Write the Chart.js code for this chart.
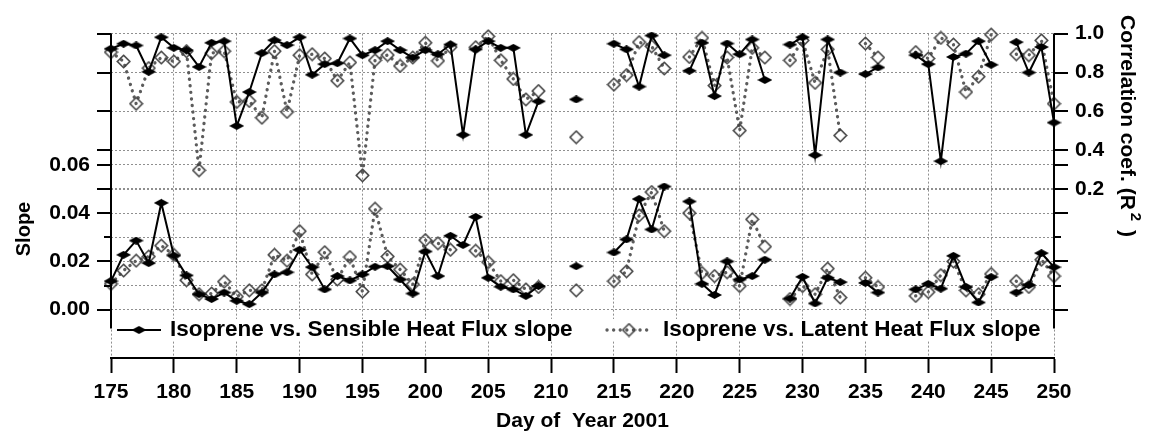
<!DOCTYPE html>
<html>
<head>
<meta charset="utf-8">
<title>Isoprene flux slopes 2001</title>
<script src="https://cdn.jsdelivr.net/npm/chart.js@4.4.1/dist/chart.umd.min.js"></script>
<style>
  html, body { margin: 0; padding: 0; background: #fff; }
  #wrap { width: 1149px; height: 436px; }
</style>
</head>
<body>
<div id="wrap"><canvas id="slopeChart" width="1149" height="436"></canvas></div>
<script>
// day of year, one entry per day so that missing days break the lines
const days = [
    175, 176, 177, 178, 179, 180, 181, 182, 183, 184,
    185, 186, 187, 188, 189, 190, 191, 192, 193, 194,
    195, 196, 197, 198, 199, 200, 201, 202, 203, 204,
    205, 206, 207, 208, 209, 210, 211, 212, 213, 214,
    215, 216, 217, 218, 219, 220, 221, 222, 223, 224,
    225, 226, 227, 228, 229, 230, 231, 232, 233, 234,
    235, 236, 237, 238, 239, 240, 241, 242, 243, 244,
    245, 246, 247, 248, 249, 250
];

// R^2 of isoprene vs. sensible heat flux
const sensibleR2 = [
    0.922, 0.948, 0.939, 0.804, 0.981, 0.927, 0.915, 0.829, 0.953, 0.961,
    0.526, 0.700, 0.900, 0.966, 0.941, 0.981, 0.789, 0.843, 0.848, 0.975,
    0.889, 0.915, 0.961, 0.915, 0.877, 0.915, 0.894, 0.944, 0.480, 0.919,
    0.961, 0.927, 0.927, 0.480, 0.652, null, null, 0.662, null, null,
    0.948, 0.919, 0.728, 0.990, 0.889, null, 0.809, 0.953, 0.679, 0.949,
    0.894, 0.970, 0.762, null, 0.944, 0.981, 0.376, 0.970, 0.800, null,
    0.792, 0.826, null, null, 0.889, 0.843, 0.345, 0.880, 0.897, 0.961,
    0.840, null, 0.956, 0.800, 0.931, 0.543
];

// R^2 of isoprene vs. latent heat flux
const latentR2 = [
    0.905, 0.857, 0.640, 0.823, 0.877, 0.857, 0.910, 0.298, 0.900, 0.910,
    0.649, 0.654, 0.568, 0.910, 0.598, 0.889, 0.894, 0.872, 0.758, 0.852,
    0.272, 0.863, 0.890, 0.834, 0.877, 0.953, 0.860, 0.931, null, 0.930,
    0.986, 0.863, 0.767, 0.662, 0.705, null, null, 0.468, null, null,
    0.738, 0.787, 0.956, 0.935, 0.821, null, 0.880, 0.978, 0.733, 0.877,
    0.502, 0.927, 0.877, null, 0.863, 0.965, 0.747, 0.919, 0.477, null,
    0.949, 0.877, null, null, 0.905, 0.872, 0.978, 0.944, 0.700, 0.779,
    0.995, null, 0.894, 0.889, 0.965, 0.640
];

// regression slopes
const sensibleSlope = [
    0.0118, 0.0227, 0.0286, 0.0193, 0.0442, 0.0224, 0.0142, 0.0064, 0.0044, 0.0071,
    0.0037, 0.0023, 0.0071, 0.0146, 0.0155, 0.0248, 0.0176, 0.0084, 0.0139, 0.0121,
    0.0146, 0.0178, 0.0180, 0.0125, 0.0067, 0.0241, 0.0139, 0.0306, 0.0268, 0.0384,
    0.0132, 0.0095, 0.0084, 0.0057, 0.0098, null, null, 0.0180, null, null,
    0.0237, 0.0291, 0.0458, 0.0332, 0.0510, null, 0.0448, 0.0107, 0.0061, 0.0200,
    0.0125, 0.0139, 0.0207, null, 0.0046, 0.0136, 0.0026, 0.0132, 0.0114, null,
    0.0111, 0.0071, null, null, 0.0084, 0.0107, 0.0087, 0.0223, 0.0094, 0.0030,
    0.0135, null, 0.0071, 0.0102, 0.0234, 0.0176
];

const latentSlope = [
    0.0107, 0.0162, 0.0203, 0.0220, 0.0265, 0.0227, 0.0122, 0.0064, 0.0067, 0.0116,
    0.0054, 0.0080, 0.0080, 0.0227, 0.0203, 0.0325, 0.0146, 0.0238, 0.0125, 0.0218,
    0.0075, 0.0418, 0.0220, 0.0166, 0.0105, 0.0288, 0.0275, 0.0248, null, 0.0244,
    0.0197, 0.0118, 0.0122, 0.0084, 0.0094, null, null, 0.0080, null, null,
    0.0118, 0.0159, 0.0390, 0.0487, 0.0325, null, 0.0400, 0.0152, 0.0139, 0.0155,
    0.0098, 0.0374, 0.0261, null, 0.0044, 0.0098, 0.0064, 0.0170, 0.0050, null,
    0.0132, 0.0094, null, null, 0.0057, 0.0073, 0.0143, 0.0200, 0.0080, 0.0064,
    0.0148, null, 0.0118, 0.0094, 0.0207, 0.0139
];

const dayTicks = [175, 180, 185, 190, 195, 200, 205, 210, 215, 220, 225, 230, 235, 240, 245, 250];
const slopeTicks = [0, 0.01, 0.02, 0.03, 0.04, 0.05, 0.06];
const r2Ticks = [0.2, 0.4, 0.6, 0.8, 1.0];

const FAMILY = '"Liberation Sans", Arial, Helvetica, sans-serif';
const GRID = '#8f8f8f';

// marker images: flat filled diamond and open diamond
function makeDiamond(w, h, fill, stroke, lw) {
    const c = document.createElement('canvas');
    c.width = w;
    c.height = h;
    const g = c.getContext('2d');
    const p = lw ? lw / 2 + 0.5 : 0;
    g.beginPath();
    g.moveTo(w / 2, p);
    g.lineTo(w - p, h / 2);
    g.lineTo(w / 2, h - p);
    g.lineTo(p, h / 2);
    g.closePath();
    if (fill) { g.fillStyle = fill; g.fill(); }
    if (stroke) { g.strokeStyle = stroke; g.lineWidth = lw; g.stroke(); }
    return c;
}
const solidMark = makeDiamond(15, 8, '#000', null, 0);
const openMark = makeDiamond(15, 15, null, '#404040', 1.6);

const pts = vals => days.map((d, i) => ({ x: d, y: vals[i] }));

const sensibleStyle = {
    borderColor: '#000',
    backgroundColor: '#000',
    borderWidth: 2,
    pointStyle: solidMark,
    pointRadius: 7,
    spanGaps: false,
    clip: false
};
const latentStyle = {
    borderColor: '#5c5c5c',
    backgroundColor: '#5c5c5c',
    borderWidth: 3.3,
    borderDash: [0.1, 6.5],
    borderCapStyle: 'round',
    pointStyle: openMark,
    pointRadius: 7,
    spanGaps: false,
    clip: false
};

// axis lines, mirrored ticks, rotated titles and the legend row
const decorations = {
    id: 'decorations',
    afterDraw(chart) {
        const { ctx, chartArea } = chart;
        const ys = chart.scales.y, yr = chart.scales.y2;
        const left = chartArea.left, right = chartArea.right;
        const top = yr.getPixelForValue(1.0);
        const bottom = ys.getPixelForValue(-0.0078);

        ctx.save();
        ctx.strokeStyle = '#000';
        ctx.lineWidth = 2;
        ctx.beginPath();
        ctx.moveTo(left, top); ctx.lineTo(left, bottom);
        ctx.moveTo(right, top); ctx.lineTo(right, bottom);
        slopeTicks.forEach(v => {
            const py = Math.round(ys.getPixelForValue(v));
            const len = Math.round(v * 100) % 2 === 0 ? 14 : 7;
            ctx.moveTo(left, py); ctx.lineTo(left - len, py);
            ctx.moveTo(right, py); ctx.lineTo(right + len, py);
        });
        r2Ticks.forEach(v => {
            const py = Math.round(yr.getPixelForValue(v));
            ctx.moveTo(left, py); ctx.lineTo(left - 14, py);
            ctx.moveTo(right, py); ctx.lineTo(right + 14, py);
        });
        ctx.stroke();

        // axis titles
        ctx.fillStyle = '#000';
        ctx.font = 'bold 20px ' + FAMILY;
        ctx.textAlign = 'center';
        ctx.textBaseline = 'middle';
        ctx.save();
        ctx.translate(24, 229);
        ctx.rotate(-Math.PI / 2);
        ctx.fillText('Slope', 0, 0);
        ctx.restore();

        ctx.save();
        ctx.translate(1127, 126);
        ctx.rotate(Math.PI / 2);
        const main = 'Correlation coef. (R', sup = '2', tail = ' )';
        ctx.font = 'bold 21px ' + FAMILY;
        const wMain = ctx.measureText(main).width;
        const wTail = ctx.measureText(tail).width;
        ctx.font = 'bold 15px ' + FAMILY;
        const wSup = ctx.measureText(sup).width + 6;
        const x0 = -(wMain + wSup + wTail) / 2;
        ctx.textAlign = 'left';
        ctx.font = 'bold 21px ' + FAMILY;
        ctx.fillText(main, x0, 0);
        ctx.font = 'bold 15px ' + FAMILY;
        ctx.fillText(sup, x0 + wMain + 3, -8);
        ctx.font = 'bold 21px ' + FAMILY;
        ctx.fillText(tail, x0 + wMain + wSup, 0);
        ctx.restore();

        // legend row inside the plot
        const ly = 330;
        const items = [
            { ds: chart.data.datasets[0], x: 117, textX: 170, boxEnd: 578 },
            { ds: chart.data.datasets[2], x: 607, textX: 663, boxEnd: 1046 }
        ];
        items.forEach(it => {
            ctx.fillStyle = '#fff';
            ctx.fillRect(it.x - 3, ly - 11, it.boxEnd - it.x + 3, 22);
            ctx.save();
            ctx.strokeStyle = it.ds.borderColor;
            ctx.lineWidth = it.ds.borderWidth;
            ctx.lineCap = it.ds.borderCapStyle || 'butt';
            ctx.setLineDash(it.ds.borderDash || []);
            ctx.beginPath();
            ctx.moveTo(it.x, ly); ctx.lineTo(it.x + 44, ly);
            ctx.stroke();
            ctx.restore();
            const m = it.ds.pointStyle;
            ctx.drawImage(m, it.x + 22 - m.width / 2, ly - m.height / 2);
            ctx.fillStyle = '#000';
            ctx.font = 'bold 22.5px ' + FAMILY;
            ctx.textAlign = 'left';
            ctx.textBaseline = 'middle';
            ctx.fillText(it.ds.label, it.textX, ly);
        });
        ctx.restore();
    }
};

const tickFont = { family: FAMILY, size: 21, weight: 'bold' };

new Chart(document.getElementById('slopeChart').getContext('2d'), {
    type: 'line',
    data: {
        datasets: [
            Object.assign({ label: 'Isoprene vs. Sensible Heat Flux slope', data: pts(sensibleSlope), yAxisID: 'y' }, sensibleStyle),
            Object.assign({ label: 'Isoprene vs. Sensible Heat Flux R²', data: pts(sensibleR2), yAxisID: 'y2' }, sensibleStyle),
            Object.assign({ label: 'Isoprene vs. Latent Heat Flux slope', data: pts(latentSlope), yAxisID: 'y' }, latentStyle),
            Object.assign({ label: 'Isoprene vs. Latent Heat Flux R²', data: pts(latentR2), yAxisID: 'y2' }, latentStyle)
        ]
    },
    options: {
        responsive: false,
        animation: false,
        devicePixelRatio: 1,
        layout: { padding: { top: 29, left: 0, right: 0, bottom: 0 } },
        plugins: {
            legend: { display: false },
            tooltip: { enabled: false }
        },
        scales: {
            x: {
                type: 'linear',
                min: 175,
                max: 250,
                afterBuildTicks: s => { s.ticks = dayTicks.map(v => ({ value: v })); },
                afterFit: s => { s.height = 78; },
                grid: { color: GRID, lineWidth: 1, drawTicks: true, tickLength: 15, tickColor: '#000', tickWidth: 2 },
                border: { display: true, color: '#000', width: 2, dash: [2, 2] },
                ticks: { color: '#000', font: tickFont, padding: 7, maxRotation: 0, autoSkip: false },
                title: {
                    display: true,
                    text: 'Day of  Year 2001',
                    color: '#000',
                    font: { family: FAMILY, size: 21, weight: 'bold' },
                    padding: { top: 0, bottom: 2 }
                }
            },
            y: {
                position: 'left',
                min: -0.02,
                max: 0.1143,
                afterBuildTicks: s => { s.ticks = slopeTicks.map(v => ({ value: v })); },
                afterFit: s => { s.width = 111; },
                grid: { color: GRID, lineWidth: 1, drawTicks: false },
                border: { display: false, dash: [2, 2] },
                ticks: {
                    color: '#000',
                    font: tickFont,
                    padding: 21,
                    callback: v => (Math.round(v * 100) % 2 === 0 ? v.toFixed(2) : '')
                }
            },
            y2: {
                position: 'right',
                min: -0.6658,
                max: 1.0,
                afterBuildTicks: s => { s.ticks = r2Ticks.map(v => ({ value: v })); },
                afterFit: s => { s.width = 95; },
                grid: { color: GRID, lineWidth: 1, drawTicks: false },
                border: { display: false, dash: [2, 2] },
                ticks: {
                    color: '#000',
                    font: tickFont,
                    padding: 21,
                    callback: v => v.toFixed(1)
                }
            }
        }
    },
    plugins: [decorations]
});
</script>
</body>
</html>
